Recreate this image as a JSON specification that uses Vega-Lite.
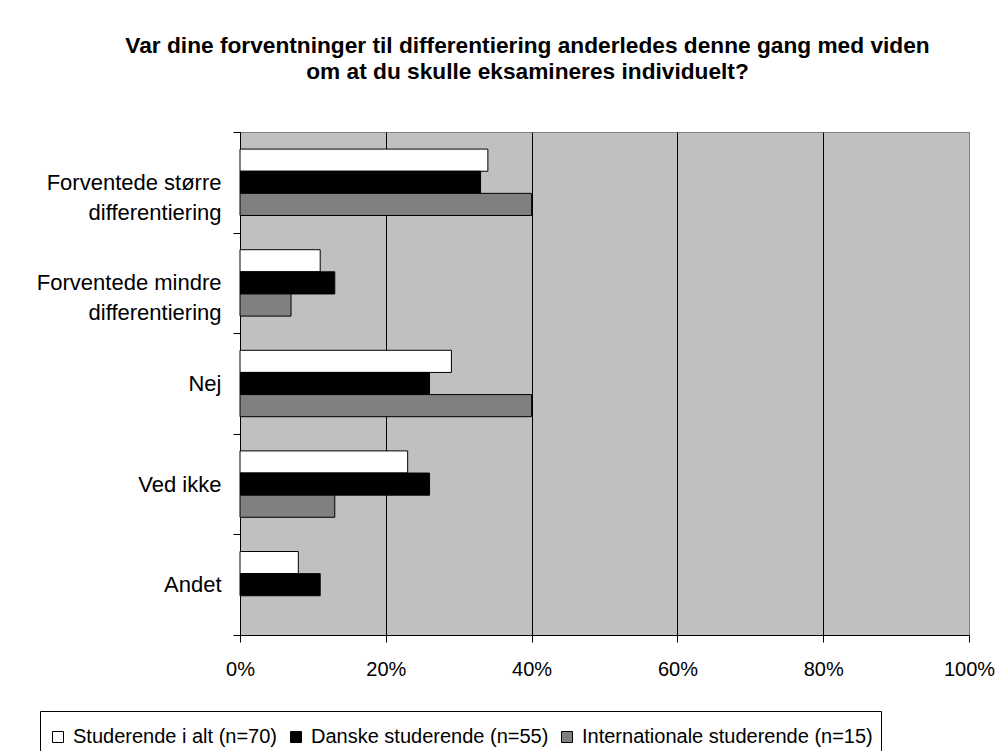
{
  "$schema": "https://vega.github.io/schema/vega-lite/v6.json",
  "width": 729,
  "height": 503,
  "autosize": {"type": "none"},
  "padding": {"left": 240, "top": 132, "right": 38, "bottom": 116},
  "background": "white",
  "title": {
    "text": ["Var dine forventninger til differentiering anderledes denne gang med viden", "om at du skulle eksamineres individuelt?"],
    "font": "Liberation Sans", "fontSize": 22.7, "fontWeight": "bold", "color": "black",
    "anchor": "middle", "frame": "group", "dx": -77, "offset": 14, "baseline": "bottom", "lineHeight": 26
  },
  "config": {
    "font": "Liberation Sans",
    "view": {"fill": "#C0C0C0", "stroke": "#808080", "strokeWidth": 1}
  },
  "data": {"values": [
    {"kat": "Forventede større differentiering", "serie": "Studerende i alt (n=70)", "pct": 34},
    {"kat": "Forventede større differentiering", "serie": "Danske studerende (n=55)", "pct": 33},
    {"kat": "Forventede større differentiering", "serie": "Internationale studerende (n=15)", "pct": 40},
    {"kat": "Forventede mindre differentiering", "serie": "Studerende i alt (n=70)", "pct": 11},
    {"kat": "Forventede mindre differentiering", "serie": "Danske studerende (n=55)", "pct": 13},
    {"kat": "Forventede mindre differentiering", "serie": "Internationale studerende (n=15)", "pct": 7},
    {"kat": "Nej", "serie": "Studerende i alt (n=70)", "pct": 29},
    {"kat": "Nej", "serie": "Danske studerende (n=55)", "pct": 26},
    {"kat": "Nej", "serie": "Internationale studerende (n=15)", "pct": 40},
    {"kat": "Ved ikke", "serie": "Studerende i alt (n=70)", "pct": 23},
    {"kat": "Ved ikke", "serie": "Danske studerende (n=55)", "pct": 26},
    {"kat": "Ved ikke", "serie": "Internationale studerende (n=15)", "pct": 13},
    {"kat": "Andet", "serie": "Studerende i alt (n=70)", "pct": 8},
    {"kat": "Andet", "serie": "Danske studerende (n=55)", "pct": 11}
  ]},
  "mark": {"type": "bar", "stroke": "black", "strokeWidth": 1},
  "encoding": {
    "y": {
      "field": "kat", "type": "nominal", "sort": null,
      "scale": {"domain": ["Forventede større differentiering", "Forventede mindre differentiering", "Nej", "Ved ikke", "Andet"], "paddingInner": 0, "paddingOuter": 0},
      "axis": {
        "title": null, "tickBand": "extent", "tickSize": 7, "tickColor": "black", "domainColor": "black",
        "labelFont": "Liberation Sans", "labelFontSize": 22, "labelColor": "black", "labelPadding": 12, "labelLimit": 400, "labelLineHeight": 30,
        "labelExpr": "datum.value === 'Forventede større differentiering' ? ['Forventede større', 'differentiering\u00a0\u00a0\u00a0'] : datum.value === 'Forventede mindre differentiering' ? ['Forventede mindre', 'differentiering\u00a0\u00a0\u00a0\u00a0'] : datum.value"
      }
    },
    "yOffset": {
      "field": "serie", "type": "nominal",
      "scale": {"domain": ["Studerende i alt (n=70)", "Danske studerende (n=55)", "Internationale studerende (n=15)"], "paddingInner": 0, "paddingOuter": 0.773}
    },
    "x": {
      "field": "pct", "type": "quantitative", "stack": null,
      "scale": {"domain": [0, 100], "nice": false},
      "axis": {
        "title": null, "values": [0, 20, 40, 60, 80, 100], "labelExpr": "datum.value + '%'",
        "grid": true, "gridColor": {"condition": {"test": "datum.value === 100", "value": "#808080"}, "value": "black"},
        "tickSize": 7, "tickColor": "black", "domainColor": "black",
        "labelFont": "Liberation Sans", "labelFontSize": 20, "labelColor": "black", "labelPadding": 17, "labelFlush": false, "labelOverlap": false
      }
    },
    "fill": {
      "field": "serie", "type": "nominal",
      "scale": {"domain": ["Studerende i alt (n=70)", "Danske studerende (n=55)", "Internationale studerende (n=15)"], "range": ["white", "black", "#808080"]},
      "legend": {
        "title": " ", "titleFontSize": 8, "titlePadding": 0,
        "orient": "none", "legendX": -200, "legendY": 579, "direction": "horizontal",
        "strokeColor": "black", "padding": 8,
        "symbolType": "square", "symbolSize": 121, "symbolStrokeColor": "black", "symbolStrokeWidth": 1,
        "labelFont": "Liberation Sans", "labelFontSize": 20, "labelColor": "black", "labelLimit": 500, "labelOffset": 5, "columnPadding": 8
      }
    }
  }
}
